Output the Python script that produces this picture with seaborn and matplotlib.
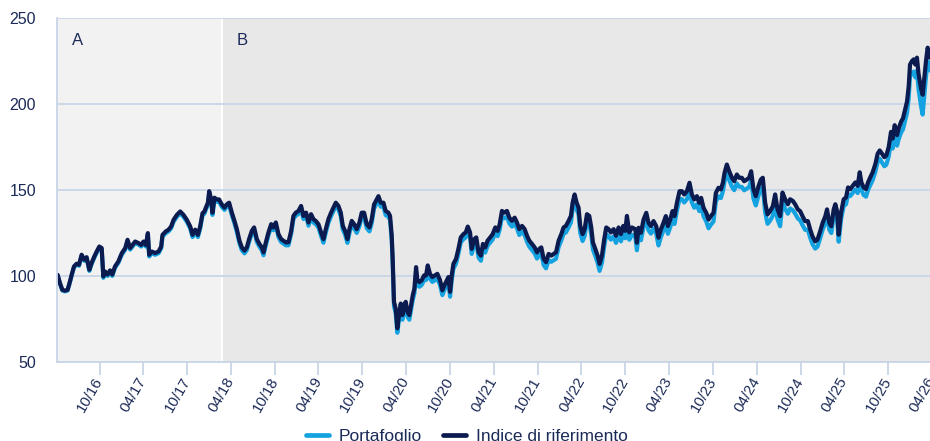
import numpy as np
import pandas as pd
import matplotlib
matplotlib.use("Agg")
import matplotlib.pyplot as plt
from matplotlib.lines import Line2D
import seaborn as sns

# ---------------- data ----------------
years = [
    2016.264, 2016.271, 2016.298, 2016.325, 2016.355, 2016.385, 2016.412, 2016.431, 2016.458, 2016.488,
    2016.515, 2016.545, 2016.576, 2016.602, 2016.633, 2016.659, 2016.690, 2016.717, 2016.747, 2016.774,
    2016.793, 2016.812, 2016.842, 2016.869, 2016.895, 2016.926, 2016.964, 2017.002, 2017.040, 2017.067,
    2017.097, 2017.124, 2017.154, 2017.192, 2017.223, 2017.249, 2017.276, 2017.299, 2017.314, 2017.344,
    2017.382, 2017.421, 2017.451, 2017.466, 2017.504, 2017.535, 2017.565, 2017.592, 2017.630, 2017.668,
    2017.706, 2017.744, 2017.782, 2017.809, 2017.839, 2017.870, 2017.896, 2017.923, 2017.946,
    2017.953, 2017.984, 2017.999, 2018.022, 2018.037, 2018.060, 2018.086, 2018.113, 2018.143, 2018.174,
    2018.200, 2018.227, 2018.258, 2018.288, 2018.315, 2018.345, 2018.372, 2018.402, 2018.429, 2018.455,
    2018.486, 2018.512, 2018.543, 2018.573, 2018.600, 2018.619, 2018.646, 2018.676, 2018.707, 2018.733,
    2018.760, 2018.790, 2018.821, 2018.847, 2018.874, 2018.904, 2018.935, 2018.961, 2018.988, 2019.019,
    2019.049, 2019.076, 2019.106, 2019.133, 2019.163, 2019.190, 2019.216, 2019.247, 2019.277, 2019.304,
    2019.331, 2019.361, 2019.391, 2019.418, 2019.445, 2019.475, 2019.502, 2019.525, 2019.551,
    2019.578, 2019.601, 2019.627, 2019.654, 2019.684, 2019.715, 2019.741, 2019.768, 2019.798, 2019.829,
    2019.855, 2019.882, 2019.913, 2019.932, 2019.958, 2019.989, 2020.015, 2020.046, 2020.065, 2020.084,
    2020.095, 2020.103, 2020.110, 2020.129, 2020.148, 2020.167, 2020.187, 2020.206, 2020.225, 2020.244,
    2020.263, 2020.285, 2020.305, 2020.324, 2020.343, 2020.362, 2020.377, 2020.400, 2020.426, 2020.453,
    2020.476, 2020.495, 2020.521, 2020.548, 2020.578, 2020.605, 2020.636, 2020.662, 2020.685, 2020.712,
    2020.731, 2020.750, 2020.769, 2020.788, 2020.818, 2020.845, 2020.872, 2020.902, 2020.929, 2020.952,
    2020.978, 2020.997, 2021.024, 2021.047, 2021.073, 2021.100, 2021.123, 2021.149, 2021.176, 2021.206,
    2021.234, 2021.264, 2021.291, 2021.314, 2021.340, 2021.367, 2021.397, 2021.424, 2021.454, 2021.485,
    2021.511, 2021.538, 2021.569, 2021.599, 2021.626, 2021.652, 2021.683, 2021.713, 2021.740, 2021.766,
    2021.789, 2021.816, 2021.843, 2021.873, 2021.903, 2021.930, 2021.957, 2021.987, 2022.018, 2022.044,
    2022.071, 2022.101, 2022.128, 2022.147, 2022.170, 2022.193, 2022.215, 2022.234, 2022.261, 2022.284,
    2022.311, 2022.337, 2022.360, 2022.379, 2022.406, 2022.432, 2022.455, 2022.482, 2022.508, 2022.531,
    2022.558, 2022.584, 2022.615, 2022.642, 2022.672, 2022.699, 2022.725, 2022.748, 2022.767, 2022.794,
    2022.824, 2022.862,
    2022.881, 2022.900, 2022.927, 2022.957, 2022.988, 2023.014, 2023.041, 2023.071, 2023.102, 2023.128,
    2023.155, 2023.185, 2023.212, 2023.235, 2023.262, 2023.288, 2023.311, 2023.338, 2023.368, 2023.395,
    2023.421, 2023.452, 2023.482, 2023.509, 2023.536, 2023.566, 2023.593, 2023.615, 2023.642, 2023.673,
    2023.699, 2023.726, 2023.756, 2023.783, 2023.813, 2023.840, 2023.863, 2023.882, 2023.908, 2023.935,
    2023.966, 2023.992, 2024.023, 2024.049, 2024.080, 2024.106, 2024.137, 2024.163, 2024.186, 2024.213,
    2024.239, 2024.270, 2024.297, 2024.319, 2024.346, 2024.373, 2024.403, 2024.434, 2024.460, 2024.487,
    2024.517,
    2024.544, 2024.574, 2024.605, 2024.631, 2024.662, 2024.688, 2024.719, 2024.745, 2024.772, 2024.802,
    2024.833, 2024.860, 2024.886, 2024.917, 2024.943, 2024.974, 2025.000, 2025.031, 2025.050, 2025.076,
    2025.099, 2025.126, 2025.145, 2025.164, 2025.183, 2025.210, 2025.240, 2025.267, 2025.290, 2025.316,
    2025.343, 2025.373, 2025.400, 2025.423, 2025.442, 2025.468, 2025.495, 2025.518, 2025.544, 2025.571,
    2025.602, 2025.628, 2025.651, 2025.678, 2025.704, 2025.727, 2025.754, 2025.780, 2025.799, 2025.822,
    2025.849, 2025.868, 2025.895, 2025.917, 2025.944, 2025.963, 2025.982, 2025.997, 2026.020, 2026.039,
    2026.058, 2026.077, 2026.096, 2026.123, 2026.142, 2026.161, 2026.180, 2026.199, 2026.218, 2026.229,
]

indice = [
    100.0, 100.7, 95.9, 92.0, 91.5, 92.0, 96.9, 100.7, 105.6, 107.2,
    106.6, 112.4, 109.5, 111.0, 103.7, 107.7, 111.4, 114.3, 117.2, 116.3,
    99.8, 102.7, 100.9, 103.3, 100.9, 105.6, 108.5, 113.4, 116.2, 121.1,
    116.3, 118.1, 120.1, 119.2, 118.1, 120.1, 118.1, 125.0, 112.4, 114.3,
    113.4, 114.3, 117.2, 124.0, 126.0, 127.0, 128.9, 132.7, 135.6, 137.6,
    135.6, 132.7, 128.9, 124.0, 127.0, 124.0, 128.9, 136.6, 137.6,
    138.8, 142.7, 149.4, 144.6, 136.9, 145.6, 144.6, 144.6, 141.7, 139.8,
    141.7, 142.7, 136.9, 132.1, 127.3, 120.6, 116.7, 114.8, 116.7, 121.5,
    126.3, 128.3, 121.5, 118.7, 116.7, 113.8, 119.6, 125.4, 130.2, 128.3,
    131.2, 124.4, 121.5, 120.6, 119.6, 119.6, 126.3, 135.0, 136.9, 137.9,
    140.8, 135.0, 136.9, 131.2, 136.0, 133.1, 132.1, 130.2, 125.4, 121.5,
    127.3, 133.1, 136.9, 139.8, 142.7, 140.8, 136.9, 129.2, 126.3,
    121.5, 127.3, 132.1, 130.2, 127.3, 131.2, 136.9, 136.9, 130.2, 128.3,
    133.1, 141.7, 144.6, 146.5, 142.7, 142.7, 137.9, 136.9, 135.0, 123.5,
    110.0, 96.5, 85.0, 81.2, 69.6, 77.3, 84.0, 77.3, 83.1, 85.0,
    79.2, 77.3, 83.1, 88.8, 92.7, 105.2, 97.5, 96.5, 97.5, 100.4,
    100.4, 106.2, 101.3, 99.4, 100.4, 101.3, 97.5, 91.7, 94.6, 97.5,
    99.4, 90.8, 100.4, 107.1, 110.0, 115.8, 122.5, 124.4, 125.4, 128.8,
    125.4, 115.8, 121.5, 122.5, 113.8, 111.9, 118.7, 116.7, 120.6, 122.5,
    124.4, 128.3, 126.3, 130.2, 137.9, 136.9, 137.9, 134.0, 132.1, 134.0,
    131.2, 127.3, 129.2, 127.3, 123.5, 120.6, 118.7, 116.7, 113.8, 115.8,
    116.7, 110.0, 108.1, 112.9, 111.9, 112.9, 113.8, 120.6, 124.4, 128.3,
    129.2, 132.1, 135.0, 142.7, 147.5, 142.7, 139.8, 129.2, 124.4, 127.3,
    136.0, 135.0, 128.3, 119.6, 115.8, 111.9, 107.1, 111.9, 121.5, 128.3,
    127.3, 125.4, 127.3, 123.5, 128.3, 124.4, 129.2, 126.3, 135.0, 125.4,
    128.3, 127.3,
    119.4, 128.1, 125.2, 132.9, 136.8, 131.0, 129.1, 132.0, 129.1, 122.3,
    127.1, 131.0, 134.9, 129.1, 132.9, 137.8, 134.9, 142.6, 149.4, 149.4,
    147.5, 149.4, 154.3, 147.5, 144.6, 146.5, 142.6, 145.5, 139.7, 136.8,
    132.9, 134.9, 136.8, 148.4, 151.4, 150.4, 154.3, 160.1, 164.9, 161.0,
    157.2, 155.2, 159.1, 157.2, 157.2, 155.2, 156.2, 157.2, 161.0, 150.4,
    146.5, 152.3, 156.2, 157.2, 142.6, 135.9, 137.8, 140.7, 147.5, 138.8,
    134.9,
    148.6, 144.7, 141.8, 144.7, 143.7, 141.8, 138.8, 137.8, 134.9, 132.0,
    132.0, 127.1, 123.1, 120.2, 121.2, 126.1, 131.0, 134.9, 138.8, 131.0,
    129.0, 138.8, 141.8, 137.8, 124.1, 136.9, 144.7, 145.7, 151.6, 150.6,
    152.5, 154.5, 152.5, 160.4, 154.5, 151.6, 150.6, 154.5, 157.5, 160.4,
    165.3, 171.2, 173.1, 171.2, 169.2, 170.2, 175.1, 183.9, 180.0, 187.8,
    182.0, 185.9, 189.8, 191.8, 197.6, 201.6, 210.4, 223.1, 225.1, 226.1,
    223.1, 227.1, 217.3, 209.4, 205.5, 215.3, 225.1, 232.9, 229.0, 227.0,
]

portafoglio = [
    100.0, 100.4, 95.5, 91.6, 91.1, 91.6, 96.5, 100.2, 105.1, 106.7,
    106.0, 111.8, 108.9, 110.4, 103.0, 107.0, 110.7, 113.6, 116.5, 115.6,
    99.0, 101.9, 100.1, 102.5, 100.1, 104.8, 107.7, 112.5, 115.3, 120.2,
    115.4, 117.2, 119.2, 118.3, 117.2, 119.2, 117.2, 124.1, 111.4, 113.3,
    112.4, 113.3, 116.2, 123.0, 125.0, 126.0, 127.9, 131.6, 134.5, 136.5,
    134.5, 131.6, 127.7, 122.7, 125.8, 122.7, 127.7, 135.4, 136.4,
    137.6, 141.5, 148.2, 143.4, 135.6, 144.3, 143.3, 143.3, 140.4, 138.5,
    140.4, 141.4, 135.5, 130.7, 125.8, 119.1, 115.1, 113.2, 115.1, 119.9,
    124.8, 126.8, 119.9, 117.1, 115.0, 112.1, 117.9, 123.8, 128.6, 126.7,
    129.6, 122.7, 119.8, 118.9, 117.9, 117.9, 124.6, 133.3, 135.2, 136.1,
    139.0, 133.2, 135.1, 129.3, 134.1, 131.2, 130.2, 128.3, 123.4, 119.4,
    125.3, 131.1, 134.9, 137.8, 140.7, 138.8, 134.8, 127.1, 124.2,
    119.3, 125.1, 129.9, 128.0, 125.1, 129.0, 134.7, 134.6, 127.9, 126.0,
    130.8, 139.4, 142.3, 144.2, 140.4, 140.4, 135.5, 134.5, 132.6, 121.0,
    107.5, 94.0, 82.4, 78.6, 67.0, 74.7, 81.4, 74.6, 80.4, 82.3,
    76.5, 74.6, 80.4, 86.1, 90.0, 102.5, 94.8, 93.8, 94.8, 97.7,
    97.7, 103.5, 98.5, 96.6, 97.6, 98.5, 94.7, 88.9, 91.8, 94.7,
    96.6, 88.0, 97.6, 104.3, 107.2, 113.0, 119.6, 121.5, 122.5, 125.9,
    122.5, 112.9, 118.5, 119.5, 110.8, 108.9, 115.7, 113.7, 117.6, 119.5,
    121.3, 125.2, 123.2, 127.0, 134.6, 133.6, 134.6, 130.7, 128.8, 130.6,
    127.8, 123.9, 125.8, 123.8, 120.0, 117.1, 115.2, 113.2, 110.2, 112.2,
    113.1, 106.4, 104.5, 109.3, 108.3, 109.2, 110.1, 116.9, 120.7, 124.6,
    125.4, 128.3, 131.2, 138.9, 143.6, 138.8, 135.9, 125.2, 120.4, 123.3,
    132.0, 131.0, 124.2, 115.5, 111.7, 107.8, 103.0, 107.8, 117.4, 124.2,
    123.2, 121.2, 123.1, 119.3, 124.1, 120.2, 125.0, 122.0, 130.7, 121.1,
    124.0, 123.0,
    115.0, 123.7, 120.8, 128.5, 132.4, 126.6, 124.7, 127.6, 124.6, 117.8,
    122.6, 126.5, 130.4, 124.6, 128.4, 133.2, 130.3, 138.0, 144.8, 144.8,
    142.8, 144.7, 149.6, 142.8, 139.8, 141.7, 137.8, 140.7, 134.8, 131.8,
    127.8, 129.9, 131.8, 143.4, 146.4, 145.4, 149.3, 155.1, 159.8, 155.9,
    152.0, 150.0, 153.9, 152.0, 151.9, 149.9, 150.9, 151.9, 155.7, 145.0,
    141.1, 146.9, 150.8, 151.8, 137.1, 130.4, 132.3, 135.2, 142.0, 133.0,
    129.0,
    143.1, 139.2, 136.3, 139.3, 138.3, 136.4, 133.5, 132.5, 129.7, 126.9,
    127.0, 122.3, 118.6, 116.0, 117.1, 122.0, 127.0, 131.0, 134.9, 127.0,
    125.0, 134.9, 137.9, 133.8, 120.0, 133.0, 140.8, 141.8, 147.6, 146.6,
    148.4, 150.4, 148.3, 156.2, 150.2, 147.2, 146.2, 150.1, 153.0, 155.9,
    160.7, 166.5, 168.3, 166.0, 163.9, 164.8, 169.6, 178.3, 174.2, 181.9,
    175.9, 179.7, 183.5, 185.4, 191.1, 195.0, 203.6, 216.1, 218.0, 219.0,
    215.6, 219.5, 208.5, 199.0, 194.0, 205.0, 216.0, 225.0, 221.0, 219.5,
]

series_names = ["Portafoglio", "Indice di riferimento"]
region_labels = ["A", "B"]
region_start = "2018-02-23"          # start of period B
y_ticks = [50, 100, 150, 200, 250]
x_tick_labels = ["10/16", "04/17", "10/17", "04/18", "10/18", "04/19", "10/19",
                 "04/20", "10/20", "04/21", "10/21", "04/22", "10/22", "04/23",
                 "10/23", "04/24", "10/24", "04/25", "10/25", "04/26"]

# ---------------- preparation ----------------
def dec_to_date(y):
    yi = int(y)
    return pd.Timestamp(yi, 1, 1) + pd.Timedelta(days=(y - yi) * 365.25)

dates = [dec_to_date(y) for y in years]
n = len(dates)
df = pd.DataFrame({
    "Data": dates + dates,
    "Valore": portafoglio + indice,
    "Serie": [series_names[0]] * n + [series_names[1]] * n,
})
x_tick_dates = [pd.Timestamp(2000 + int(l[3:]), int(l[:2]), 1) for l in x_tick_labels]

NAVY = "#0b1a4f"
LIGHT = "#14a3e0"
TEXT = "#1b2a57"
GRID = "#c8d5e6"

sns.set_theme(style="white")
plt.rcParams["font.family"] = ["Liberation Sans", "DejaVu Sans"]

fig = plt.figure(figsize=(9.3, 4.41), dpi=100)
ax = fig.add_axes([57 / 930, 79 / 441, (931.8 - 57) / 930, 343.7 / 441])

x_left = dates[0]
x_right = x_tick_dates[-1]
b_start = pd.Timestamp(region_start)

ax.axvspan(x_left, b_start, color="#f2f2f2", lw=0, zorder=0)
ax.axvspan(b_start, x_right, color="#e8e8e8", lw=0, zorder=0)
ax.axvline(b_start, color="white", lw=1.4, zorder=0.3)

sns.lineplot(data=df, x="Data", y="Valore", hue="Serie", hue_order=series_names,
             palette={series_names[0]: LIGHT, series_names[1]: NAVY},
             estimator=None, linewidth=3.0, legend=False, ax=ax)

ax.set_xlim(x_left, x_right)
ax.set_ylim(y_ticks[0], y_ticks[-1])
ax.set_yticks(y_ticks)
ax.set_xticks(x_tick_dates)
ax.set_xticklabels(x_tick_labels)
ax.set_xlabel("")
ax.set_ylabel("")

ax.set_axisbelow(True)
ax.yaxis.grid(True, color=GRID, lw=1.3)
ax.xaxis.grid(False)
for s in ["top", "right"]:
    ax.spines[s].set_visible(False)
for s in ["left", "bottom"]:
    ax.spines[s].set_color(GRID)
    ax.spines[s].set_linewidth(1.3)

ax.tick_params(axis="y", length=0, pad=15, labelsize=11.5, labelcolor=TEXT)
ax.tick_params(axis="x", length=9.5, width=1.3, color=GRID, pad=2,
               labelsize=10.8, labelcolor=TEXT, bottom=True)
for lbl in ax.get_xticklabels():
    lbl.set_rotation(60)
    lbl.set_ha("right")
    lbl.set_va("center")
    lbl.set_rotation_mode("anchor")

for lab, xs in zip(region_labels, [x_left, b_start]):
    ax.annotate(lab, xy=(xs, y_ticks[-1]), xytext=(15, -27), textcoords="offset pixels",
                fontsize=12, color=TEXT, ha="left", va="baseline")

handles = [Line2D([0], [0], color=LIGHT, lw=3.4), Line2D([0], [0], color=NAVY, lw=3.4)]
fig.legend(handles, series_names, loc="center", bbox_to_anchor=(467 / 930, 1 - 436 / 441),
           ncol=2, frameon=False, fontsize=12.5, handlelength=1.3, handletextpad=0.6,
           columnspacing=1.2, labelcolor=TEXT)

fig.savefig("out.png", dpi=100)
